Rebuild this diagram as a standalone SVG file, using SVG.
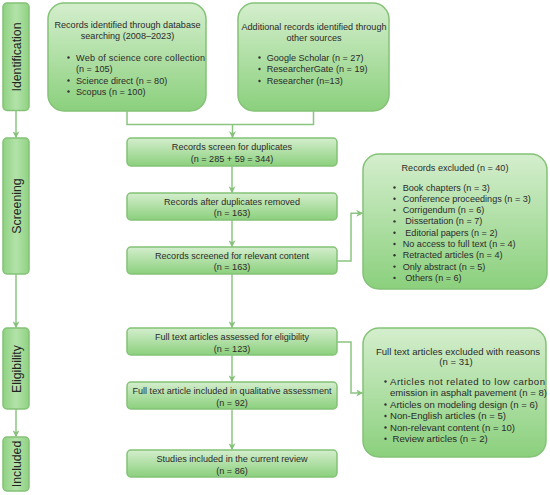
<svg xmlns="http://www.w3.org/2000/svg" width="550" height="495" viewBox="0 0 550 495">
<defs>
<linearGradient id="g" x1="0" y1="0" x2="0" y2="1">
<stop offset="0" stop-color="#d4eecd"/>
<stop offset="1" stop-color="#8bd07d"/>
</linearGradient>
<linearGradient id="gs" x1="0" y1="0" x2="1" y2="0">
<stop offset="0" stop-color="#8fd282"/>
<stop offset="0.5" stop-color="#b3e2a9"/>
<stop offset="1" stop-color="#8fd282"/>
</linearGradient>
<marker id="ah" viewBox="0 0 10 10" refX="9" refY="5" markerWidth="7" markerHeight="7" markerUnits="userSpaceOnUse" orient="auto">
<path d="M0,0 L10,5 L0,10 L3,5 Z" fill="#86c17a"/>
</marker>
<style>
.box{fill:url(#g);stroke:#84c277;stroke-width:1.5}
.stage{fill:url(#gs);stroke:#84c277;stroke-width:1.5}
.t{font-family:"Liberation Sans",Arial,sans-serif;font-size:9.1px;fill:#2b2b2b}
.c{text-anchor:middle}
.tl{font-size:9.6px}
.sl{font-family:"Liberation Sans",Arial,sans-serif;font-size:12.3px;fill:#222;text-anchor:middle}
.b{fill:#333}
.con{fill:none;stroke:#8cc481;stroke-width:1.5}
</style>
</defs>
<rect width="550" height="495" fill="#ffffff"/>

<g id="stage-identification">
<rect class="stage" x="3" y="3" width="26" height="107.5" rx="4"/>
<text class="sl" transform="translate(20.5,57) rotate(-90)">Identification</text>
</g>
<g id="stage-screening">
<rect class="stage" x="3" y="138" width="26" height="136" rx="4"/>
<text class="sl" transform="translate(20.5,206) rotate(-90)">Screening</text>
</g>
<g id="stage-eligibility">
<rect class="stage" x="3" y="328" width="26" height="81" rx="4"/>
<text class="sl" transform="translate(20.5,369) rotate(-90)">Eligibility</text>
</g>
<g id="stage-included">
<rect class="stage" x="3" y="437" width="26" height="54" rx="4"/>
<text class="sl" transform="translate(20.5,464) rotate(-90)">Included</text>
</g>

<g id="db-search">
<rect class="box" x="48" y="3" width="158" height="108" rx="16"/>
<text class="t c" x="127.5" y="28">Records identified through database</text>
<text class="t c" x="127.5" y="38.5">searching (2008–2023)</text>
<circle class="b" cx="68.5" cy="57.5" r="1.2"/>
<text class="t" x="76" y="60.5" textLength="129" lengthAdjust="spacing">Web of science core collection</text>
<text class="t" x="76" y="72">(n = 105)</text>
<circle class="b" cx="68.5" cy="80.5" r="1.2"/>
<text class="t" x="76" y="83.5">Science direct (n = 80)</text>
<circle class="b" cx="68.5" cy="91.5" r="1.2"/>
<text class="t" x="76" y="94.5">Scopus (n = 100)</text>
</g>

<g id="other-sources">
<rect class="box" x="238" y="3" width="151" height="108" rx="16"/>
<text class="t c" x="314" y="30">Additional records identified through</text>
<text class="t c" x="314" y="41">other sources</text>
<circle class="b" cx="259.5" cy="57.5" r="1.2"/>
<text class="t" x="266.7" y="60.5">Google Scholar (n = 27)</text>
<circle class="b" cx="259.5" cy="69" r="1.2"/>
<text class="t" x="266.7" y="72">ResearcherGate (n = 19)</text>
<circle class="b" cx="259.5" cy="81" r="1.2"/>
<text class="t" x="266.7" y="84">Researcher (n=13)</text>
</g>

<g id="screen-duplicates">
<rect class="box" x="127" y="138" width="210" height="28" rx="4"/>
<text class="t c" x="232" y="150">Records screen for duplicates</text>
<text class="t c" x="232" y="161.5">(n = 285 + 59 = 344)</text>
</g>
<g id="after-duplicates">
<rect class="box" x="127" y="193" width="210" height="27" rx="4"/>
<text class="t c" x="232" y="204.5">Records after duplicates removed</text>
<text class="t c" x="232" y="215.5">(n = 163)</text>
</g>
<g id="relevant-content">
<rect class="box" x="127" y="247" width="210" height="27" rx="4"/>
<text class="t c" x="232" y="258.5">Records screened for relevant content</text>
<text class="t c" x="232" y="270">(n = 163)</text>
</g>

<g id="records-excluded">
<rect class="box" x="363" y="154" width="184" height="135" rx="16"/>
<text class="t c" x="455" y="171">Records excluded (n = 40)</text>
<circle class="b" cx="394.5" cy="187.5" r="1.2"/>
<text class="t" x="402.7" y="190.5">Book chapters (n = 3)</text>
<circle class="b" cx="394.5" cy="198.8" r="1.2"/>
<text class="t" x="402.7" y="201.8">Conference proceedings (n = 3)</text>
<circle class="b" cx="394.5" cy="210.1" r="1.2"/>
<text class="t" x="402.7" y="213.1">Corrigendum (n = 6)</text>
<circle class="b" cx="394.5" cy="221.4" r="1.2"/>
<text class="t" x="405.3" y="224.4">Dissertation (n = 7)</text>
<circle class="b" cx="394.5" cy="232.7" r="1.2"/>
<text class="t" x="405.3" y="235.7">Editorial papers (n = 2)</text>
<circle class="b" cx="394.5" cy="244" r="1.2"/>
<text class="t" x="402.7" y="247">No access to full text (n = 4)</text>
<circle class="b" cx="394.5" cy="255.3" r="1.2"/>
<text class="t" x="402.7" y="258.3">Retracted articles (n = 4)</text>
<circle class="b" cx="394.5" cy="266.6" r="1.2"/>
<text class="t" x="402.7" y="269.6">Only abstract (n = 5)</text>
<circle class="b" cx="394.5" cy="277.9" r="1.2"/>
<text class="t" x="405.3" y="280.9">Others (n = 6)</text>
</g>

<g id="fulltext-assessed">
<rect class="box" x="127" y="328" width="210" height="27" rx="4"/>
<text class="t c" x="232" y="340">Full text articles assessed for eligibility</text>
<text class="t c" x="232" y="351.5">(n = 123)</text>
</g>
<g id="qualitative">
<rect class="box" x="127" y="382" width="210" height="27" rx="4"/>
<text class="t c" x="232" y="394">Full text article included in qualitative assessment</text>
<text class="t c" x="232" y="405.5">(n = 92)</text>
</g>
<g id="studies-included">
<rect class="box" x="127" y="450" width="210" height="27" rx="4"/>
<text class="t c" x="232" y="462">Studies included in the current review</text>
<text class="t c" x="232" y="473.5">(n = 86)</text>
</g>

<g id="fulltext-excluded">
<rect class="box" x="363" y="328" width="183" height="129" rx="16"/>
<text class="t tl c" x="458" y="354.5">Full text articles excluded with reasons</text>
<text class="t tl c" x="456" y="365">(n = 31)</text>
<circle class="b" cx="385.5" cy="381.5" r="1.2"/>
<text class="t tl" x="390" y="384.5" textLength="155" lengthAdjust="spacing">Articles not related to  low carbon</text>
<text class="t tl" x="390" y="396">emission in asphalt pavement (n = 8)</text>
<circle class="b" cx="385.5" cy="404.5" r="1.2"/>
<text class="t tl" x="390" y="407.5">Articles on modeling design (n = 6)</text>
<circle class="b" cx="385.5" cy="416" r="1.2"/>
<text class="t tl" x="390" y="419">Non-English articles (n = 5)</text>
<circle class="b" cx="385.5" cy="427.5" r="1.2"/>
<text class="t tl" x="390" y="430.5">Non-relevant content (n = 10)</text>
<circle class="b" cx="385.5" cy="438.8" r="1.2"/>
<text class="t tl" x="392.5" y="441.8">Review articles (n = 2)</text>
</g>

<g id="connectors">
<path class="con" d="M16,110.5 V137.5" marker-end="url(#ah)"/>
<path class="con" d="M16,274 V327.5" marker-end="url(#ah)"/>
<path class="con" d="M16,409 V436.5" marker-end="url(#ah)"/>
<path class="con" d="M127,111 V124.5 H313.5 V111"/>
<path class="con" d="M232.5,124.5 V137.5" marker-end="url(#ah)"/>
<path class="con" d="M232,166 V192.5" marker-end="url(#ah)"/>
<path class="con" d="M232,220 V246.5" marker-end="url(#ah)"/>
<path class="con" d="M232,274 V327.5" marker-end="url(#ah)"/>
<path class="con" d="M232,355 V381.5" marker-end="url(#ah)"/>
<path class="con" d="M232,409 V449.5" marker-end="url(#ah)"/>
<path class="con" d="M337,261 H351 V213.3 H362.5" marker-end="url(#ah)"/>
<path class="con" d="M337,342 H351 V393 H362.5" marker-end="url(#ah)"/>
</g>
</svg>
